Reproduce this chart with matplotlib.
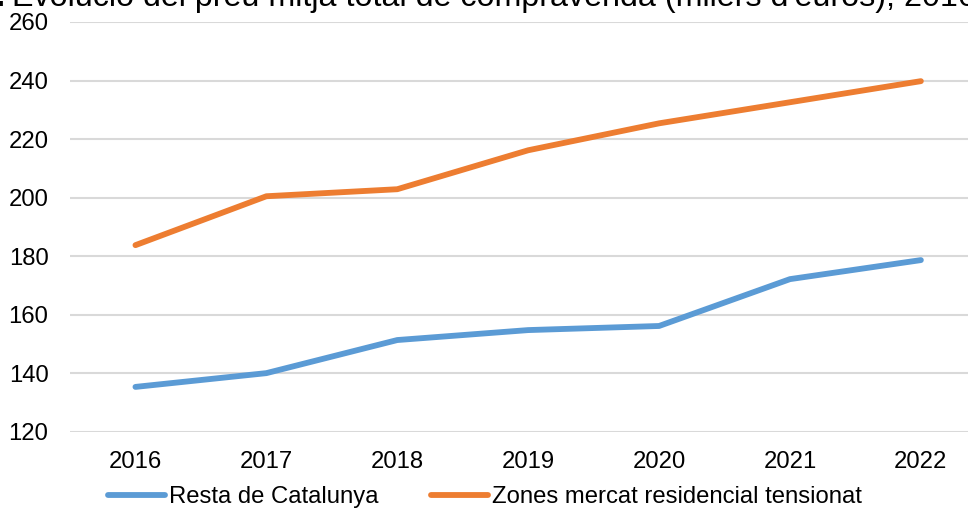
import numpy as np
import matplotlib
matplotlib.use("Agg")
import matplotlib.pyplot as plt

# dades (milers d'euros)
years = ["2016", "2017", "2018", "2019", "2020", "2021", "2022"]
resta = [135.4, 140.1, 151.4, 154.8, 156.2, 172.2, 178.7]
zones = [183.8, 200.5, 202.9, 216.2, 225.4, 232.6, 239.8]
labels = ["Resta de Catalunya", "Zones mercat residencial tensionat"]
yticks = [120, 140, 160, 180, 200, 220, 240, 260]

plt.rcParams['font.family'] = ['Liberation Sans', 'DejaVu Sans']

W, H = 968, 508
fig = plt.figure(figsize=(W / 100, H / 100), dpi=100)
ax = fig.add_axes([70 / W, (H - 432) / H, (W - 70) / W, 410 / H])

x = np.arange(len(years))
ax.plot(x, resta, color="#5B9BD5", lw=4.2, solid_capstyle="round", label=labels[0])
ax.plot(x, zones, color="#ED7D31", lw=4.2, solid_capstyle="round", label=labels[1])

ax.set_xlim(-0.5, 6.36)
ax.set_ylim(120, 260)
ax.set_yticks(yticks)
ax.set_xticks(x)
ax.set_xticklabels(years)
ax.grid(axis="y", color="#D9D9D9", lw=1.5)
ax.set_axisbelow(True)
for s in ax.spines.values():
    s.set_visible(False)
ax.tick_params(axis="both", length=0, labelsize=17.2, colors="black")
ax.tick_params(axis="y", pad=15.5)
ax.tick_params(axis="x", pad=14)

# titol (retallat a la part superior com a l'original)
fig.text(5 / W, 1 - 6 / H, "Gràfic 1.", fontsize=23.2, fontweight="bold",
         ha="right", va="baseline")
fig.text(12 / W, 1 - 6 / H,
         "Evolució del preu mitjà total de compravenda (milers d'euros), 2016-2022",
         fontsize=23.2, ha="left", va="baseline")

fig.legend(loc="center", bbox_to_anchor=(485 / W, 11 / H), ncol=2, frameon=False,
           fontsize=17.2, handlelength=2.4, handletextpad=0.15, columnspacing=2.2,
           borderpad=0, borderaxespad=0)

fig.savefig("out.png", dpi=100)
